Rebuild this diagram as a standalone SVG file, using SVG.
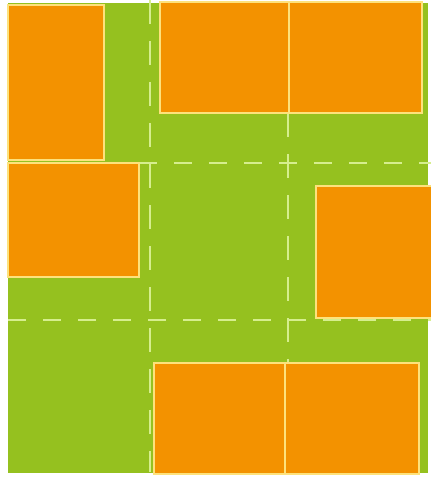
<svg xmlns="http://www.w3.org/2000/svg" width="431" height="477" viewBox="0 0 431 477">
<style>
.lot{fill:#F39200;stroke:#FDE27C;stroke-width:2}
.dash{stroke:#D6EE8E;stroke-width:2;fill:none}
</style>
<rect width="431" height="477" fill="#ffffff"/>
<rect x="8" y="3" width="420" height="470" fill="#95C11F"/>
<g id="roads">
<line class="dash" x1="150" y1="0" x2="150" y2="472" stroke-dasharray="24 17"/>
<line class="dash" x1="288" y1="113" x2="288" y2="363" stroke-dasharray="24 17"/>
<line class="dash" x1="139" y1="163" x2="431" y2="163" stroke-dasharray="18 17"/>
<line class="dash" x1="8" y1="320" x2="431" y2="320" stroke-dasharray="18 17"/>
</g>
<g id="lots">
<rect class="lot" x="8" y="5" width="96" height="155"/>
<rect class="lot" x="160" y="2" width="129" height="111"/>
<rect class="lot" x="289" y="2" width="133" height="111"/>
<rect class="lot" x="8" y="163" width="131" height="114"/>
<rect class="lot" x="316" y="186" width="117" height="132"/>
<rect class="lot" x="154" y="363" width="131" height="111"/>
<rect class="lot" x="285" y="363" width="134" height="111"/>
</g>
</svg>
